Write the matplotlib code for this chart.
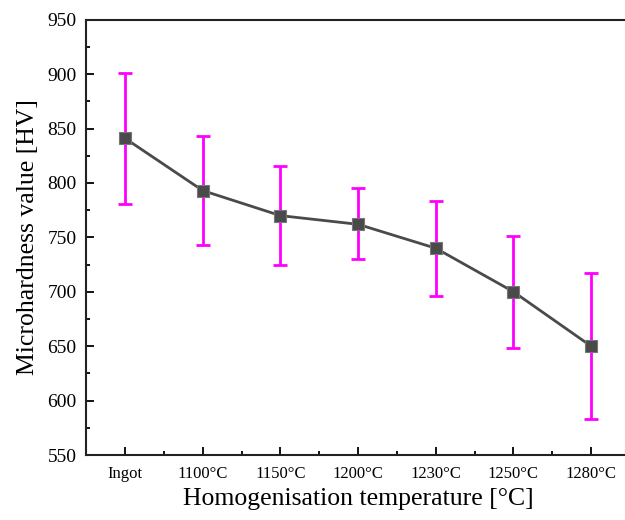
import matplotlib
matplotlib.use('Agg')
import matplotlib.pyplot as plt
from matplotlib.ticker import MultipleLocator

plt.rcParams['font.family'] = ['Liberation Serif', 'DejaVu Serif']

labels = ['Ingot', '1100°C', '1150°C', '1200°C', '1230°C', '1250°C', '1280°C']
hardness = [841, 793, 770, 762, 740, 700, 650]
err_up = [901, 843, 816, 795, 783, 751, 717]
err_low = [781, 743, 725, 730, 696, 648, 583]

yerr = [[h - lo for h, lo in zip(hardness, err_low)],
        [hi - h for h, hi in zip(hardness, err_up)]]
x = list(range(len(labels)))

fig = plt.figure(figsize=(6.25, 5.2), dpi=100)
ax = fig.add_axes([0.138, 0.125, 0.87, 0.837])

ax.errorbar(x, hardness, yerr=yerr, fmt='none', ecolor='#ff00ff',
            elinewidth=2, capsize=5, capthick=2, zorder=2)
ax.plot(x, hardness, color='#4a4a4a', lw=2, marker='s', ms=8,
        mfc='#4a4a4a', mec='#777777', mew=0.8, zorder=3)

ax.set_xlim(-0.5, 6.5)
ax.set_ylim(550, 950)
ax.set_xticks(x)
ax.set_xticklabels(labels, fontsize=12)
ax.xaxis.set_minor_locator(MultipleLocator(0.5))
ax.yaxis.set_major_locator(MultipleLocator(50))
ax.yaxis.set_minor_locator(MultipleLocator(25))
ax.tick_params(axis='y', labelsize=14, pad=7)
ax.tick_params(which='both', direction='in', top=False, right=False, width=1.3)
ax.tick_params(which='major', length=6)
ax.tick_params(which='minor', length=3)
ax.tick_params(axis='x', pad=8)

for s in ax.spines.values():
    s.set_linewidth(1.5)
    s.set_color('#222222')

ax.set_xlabel('Homogenisation temperature [°C]', fontsize=18.5, labelpad=4)
ax.set_ylabel('Microhardness value [HV]', fontsize=18.5, labelpad=6)

fig.savefig('out.png', dpi=100)
